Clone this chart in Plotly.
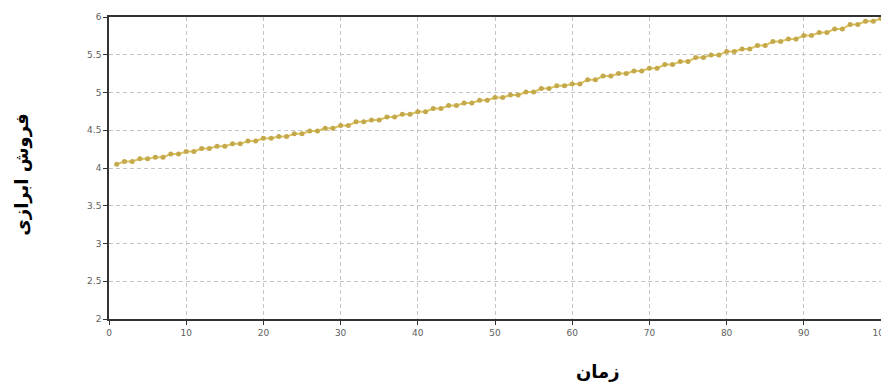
import plotly.graph_objects as go

time_x = list(range(1, 101))
sales_pairs = [4.086, 4.121, 4.144, 4.184, 4.218, 4.258, 4.287, 4.320, 4.357, 4.393,
               4.416, 4.453, 4.490, 4.526, 4.562, 4.612, 4.636, 4.676, 4.711, 4.745,
               4.787, 4.827, 4.860, 4.897, 4.933, 4.967, 5.007, 5.052, 5.089, 5.113,
               5.169, 5.218, 5.251, 5.285, 5.321, 5.370, 5.410, 5.463, 5.496, 5.543,
               5.577, 5.623, 5.675, 5.710, 5.755, 5.795, 5.842, 5.901, 5.944]
sales_first = 4.051
sales_last = 5.981
sales = [sales_first]
for v in sales_pairs:
    sales += [v, v]
sales.append(sales_last)

x_ticks = [0, 10, 20, 30, 40, 50, 60, 70, 80, 90, 100]
y_ticks = [2, 2.5, 3, 3.5, 4, 4.5, 5, 5.5, 6]
x_title = "زمان"
y_title = "فروش ابرازی"

fig = go.Figure()
fig.add_trace(go.Scatter(
    x=time_x, y=sales, mode="lines+markers",
    line=dict(color="#dcc25a", width=2),
    marker=dict(color="#c4a84c", size=5),
    showlegend=False,
))

axis_common = dict(
    showgrid=True, gridcolor="#c4c4c4", griddash="4px,3px", gridwidth=1,
    showline=True, linecolor="#333333", linewidth=1.5, mirror=True,
    ticks="outside", ticklen=4, tickcolor="#333333",
    tickfont=dict(family="DejaVu Sans", size=9, color="#606060"),
    zeroline=False, automargin=False, ticklabeloverflow="allow",
)
fig.update_xaxes(range=[0, 100], tickvals=x_ticks, **axis_common)
fig.update_yaxes(range=[2, 6], tickvals=y_ticks, **axis_common)

fig.add_annotation(text=f"<b>{x_title}</b>", xref="paper", yref="paper",
                   x=0.633, y=-0.175, yanchor="middle", showarrow=False,
                   font=dict(family="DejaVu Sans", size=18, color="#000000"))
fig.add_annotation(text=f"<b>{y_title}</b>", xref="paper", yref="paper",
                   x=-0.113, y=0.477, textangle=-90, xanchor="center", yanchor="middle",
                   showarrow=False,
                   font=dict(family="DejaVu Sans", size=18, color="#000000"))

fig.update_layout(
    width=881, height=379,
    margin=dict(l=101, r=8, t=9, b=68),
    paper_bgcolor="white", plot_bgcolor="white",
)
fig.write_html("out.html")
